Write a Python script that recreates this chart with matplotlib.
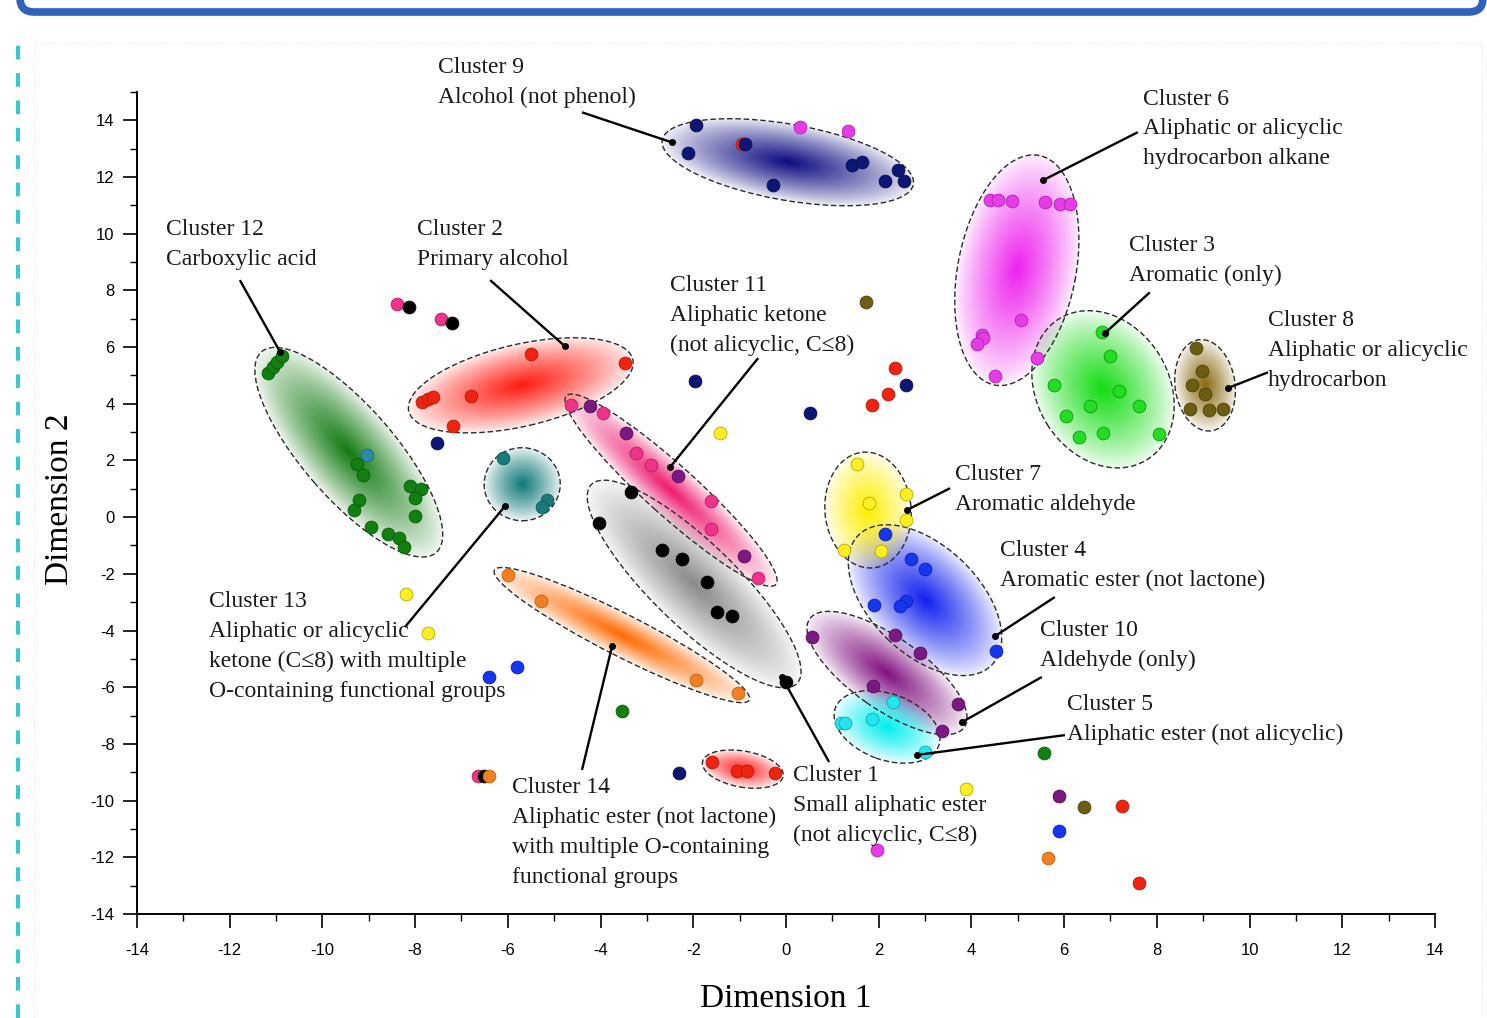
import numpy as np
import matplotlib
matplotlib.use("Agg")
import matplotlib.pyplot as plt
import matplotlib.transforms as mtransforms
from matplotlib.patches import Ellipse, FancyBboxPatch, Rectangle
from matplotlib.lines import Line2D
from matplotlib.ticker import MultipleLocator
from matplotlib.colors import to_rgb

plt.rcParams['axes.unicode_minus'] = False

# ---- points, grouped by marker colour (Dimension 1, Dimension 2) ----
red_x = [-5.51, -3.47, -7.86, -7.72, -7.61, -6.80, -7.19, -1.59, -1.05, -0.83, -0.24,
         2.35, 2.20, 1.86, 7.25, 7.61, -0.95]
red_y = [5.75, 5.45, 4.07, 4.15, 4.24, 4.27, 3.21, -8.63, -8.96, -8.96, -9.02,
         5.25, 4.34, 3.95, -10.19, -12.91, 13.15]
pink_x = [-4.64, -3.95, -3.24, -2.92, -1.62, -1.62, -0.60, -8.39, -7.44, -6.64]
pink_y = [3.95, 3.68, 2.25, 1.83, 0.56, -0.43, -2.16, 7.51, 6.98, -9.13]
black_x = [-3.35, -4.03, -2.68, -2.25, -1.70, -1.48, -1.17, 0.00, -8.13, -7.20, -6.52]
black_y = [0.89, -0.19, -1.16, -1.46, -2.28, -3.34, -3.48, -5.81, 7.40, 6.84, -9.13]
orange_x = [-6.00, -5.28, -1.93, -1.04, -6.41, 5.65]
orange_y = [-2.05, -2.95, -5.75, -6.22, -9.13, -12.02]
navy_x = [-1.93, -2.11, -0.88, -0.29, 1.43, 1.63, 2.14, 2.42, 2.55, -7.53, -1.96, 0.52, 2.59, -2.31]
navy_y = [13.82, 12.85, 13.15, 11.73, 12.41, 12.52, 11.84, 12.24, 11.86, 2.60, 4.80, 3.67, 4.65, -9.03]
magenta_x = [4.40, 4.58, 4.87, 5.59, 5.91, 6.13, 5.08, 4.22, 4.25, 4.13, 4.51, 5.42, 0.30, 1.33, 1.96]
magenta_y = [11.18, 11.18, 11.15, 11.12, 11.06, 11.04, 6.95, 6.42, 6.31, 6.12, 4.97, 5.63, 13.76, 13.61, -11.74]
lime_x = [6.82, 7.00, 5.78, 6.56, 7.19, 7.61, 6.04, 6.33, 6.84, 8.05]
lime_y = [6.53, 5.68, 4.65, 3.92, 4.45, 3.92, 3.56, 2.81, 2.95, 2.92]
olive_x = [8.84, 8.98, 8.76, 9.05, 8.71, 9.12, 9.43, 1.73, 6.43]
olive_y = [5.95, 5.16, 4.65, 4.34, 3.81, 3.77, 3.81, 7.58, -10.23]
green_x = [-11.17, -11.07, -10.97, -10.88, -9.26, -9.12, -8.11, -7.87, -8.00, -9.20, -9.32,
           -8.00, -8.96, -8.59, -8.34, -8.23, -3.54, 5.57]
green_y = [5.07, 5.28, 5.48, 5.68, 1.86, 1.48, 1.09, 0.98, 0.69, 0.62, 0.25,
           0.04, -0.36, -0.60, -0.72, -1.05, -6.84, -8.32]
steel_x = [-9.03]
steel_y = [2.19]
purple_x = [-4.23, -3.44, -2.32, -0.91, 0.57, 2.35, 2.89, 1.88, 3.72, 3.36, 5.89]
purple_y = [3.91, 2.95, 1.45, -1.36, -4.22, -4.16, -4.81, -5.96, -6.59, -7.54, -9.84]
teal_x = [-6.10, -5.16, -5.27]
teal_y = [2.07, 0.60, 0.36]
yellow_x = [1.53, 2.59, 1.80, 2.59, 1.26, 2.06, -1.42, -8.20, -7.72, 3.88]
yellow_y = [1.87, 0.81, 0.50, -0.11, -1.16, -1.20, 2.96, -2.72, -4.09, -9.59]
blue_x = [2.14, 2.69, 3.00, 1.90, 2.60, 2.46, 4.53, -5.80, -6.41, 5.89]
blue_y = [-0.61, -1.46, -1.84, -3.10, -2.95, -3.14, -4.71, -5.29, -5.64, -11.07]
cyan_x = [2.31, 1.19, 1.27, 1.85, 3.01]
cyan_y = [-6.51, -7.25, -7.27, -7.13, -8.28]

# ---- cluster ellipses: centre (data), semi-axes (pt), angle (deg), colour ----
ell_x = [-1.98, -2.48, -9.43, -5.72, -5.69, -3.54, -0.93, 0.04, 4.98, 6.84, 9.04, 3.00, 1.77, 2.18, 2.18]
ell_y = [-2.36, 0.95, 2.29, 4.65, 1.16, -4.16, -8.89, 12.52, 8.71, 4.51, 4.65, -2.93, 0.25, -5.50, -7.40]
ell_a = [103.0, 101.5, 95.8, 82.8, 27.4, 103.0, 29.5, 91.8, 84.2, 59.8, 33.1, 67.0, 41.8, 68.0, 39.6]
ell_b = [30.2, 18.0, 33.1, 29.5, 26.3, 15.1, 13.0, 27.4, 42.5, 47.5, 21.6, 38.9, 31.0, 25.9, 23.8]
ell_ang = [-44, -42, -49, 13, 0, -27, -10, -10, 79, -58, 98, -44, 95, -35, -20]
ell_col = ['#8a8a8a', '#ee1a6e', '#117a11', '#ff1a10', '#0e7878', '#ff6a00', '#ff2020', '#0a0a80',
           '#ee22ee', '#11dd11', '#8a6a10', '#1020ee', '#ffee00', '#801080', '#00eeee']

# ---- annotations ----
ann_text = [
    "Cluster 9\nAlcohol (not phenol)",
    "Cluster 6\nAliphatic or alicyclic\nhydrocarbon alkane",
    "Cluster 12\nCarboxylic acid",
    "Cluster 2\nPrimary alcohol",
    "Cluster 11\nAliphatic ketone\n(not alicyclic, C\u22648)",
    "Cluster 3\nAromatic (only)",
    "Cluster 8\nAliphatic or alicyclic\nhydrocarbon",
    "Cluster 7\nAromatic aldehyde",
    "Cluster 4\nAromatic ester (not lactone)",
    "Cluster 10\nAldehyde (only)",
    "Cluster 5\nAliphatic ester (not alicyclic)",
    "Cluster 13\nAliphatic or alicyclic\nketone (C\u22648) with multiple\nO-containing functional groups",
    "Cluster 14\nAliphatic ester (not lactone)\nwith multiple O-containing\nfunctional groups",
    "Cluster 1\nSmall aliphatic ester\n(not alicyclic, C\u22648)",
]
ann_tx = [-7.51, 7.70, -13.37, -7.96, -2.50, 7.40, 10.40, 3.65, 4.62, 5.48, 6.06, -12.45, -5.91, 0.15]
ann_ty = [16.22, 15.12, 10.50, 10.50, 8.53, 9.94, 7.29, 1.86, -0.82, -3.64, -6.25, -2.61, -9.17, -8.75]
ann_x0 = [-4.40, 7.59, -11.78, -6.38, -0.60, 7.85, 10.40, 3.54, 5.80, 5.52, 6.02, -8.22, -4.40, 0.93]
ann_y0 = [14.28, 13.58, 8.36, 8.36, 5.61, 7.93, 5.11, 1.02, -2.82, -5.64, -7.69, -3.88, -8.92, -8.64]
ann_x1 = [-2.46, 5.54, -10.91, -4.77, -2.50, 6.88, 9.53, 2.61, 4.51, 3.80, 2.83, -6.06, -3.75, -0.09]
ann_y1 = [13.22, 11.88, 5.82, 6.03, 1.76, 6.49, 4.55, 0.25, -4.20, -7.23, -8.39, 0.39, -4.55, -5.64]

fig = plt.figure(figsize=(14.87, 10.18), dpi=100)
ax = fig.add_axes([0.0921, 0.1022, 0.8729, 0.8075])


def shade(cx, cy, a, b, ang, col):
    # radial colour gradient clipped to a dashed ellipse
    tr = (mtransforms.Affine2D().rotate_deg(ang).scale(1 / 72.)
          + fig.dpi_scale_trans
          + mtransforms.ScaledTranslation(cx, cy, ax.transData))
    n = 220
    u = np.linspace(-1, 1, n)
    xx, yy = np.meshgrid(u, u)
    r = np.clip(np.hypot(xx, yy), 0, 1)
    rgba = np.ones((n, n, 4))
    rgba[..., :3] = to_rgb(col)
    rgba[..., 3] = 0.06 + 0.94 * (1 - r) ** 0.85
    im = ax.imshow(rgba, extent=(-a, a, -b, b), transform=tr, interpolation='bilinear',
                   aspect='auto', zorder=1)
    ell = Ellipse((0, 0), 2 * a, 2 * b, transform=tr, fill=False, ls=(0, (4, 2)),
                  lw=1.0, ec='#2a2a2a', zorder=2)
    ax.add_patch(ell)
    im.set_clip_path(ell)


for i in range(len(ell_x)):
    shade(ell_x[i], ell_y[i], ell_a[i], ell_b[i], ell_ang[i], ell_col[i])

groups = [
    (red_x, red_y, '#ee2410', '#b01a0a'),
    (pink_x, pink_y, '#ee3388', '#b02060'),
    (black_x, black_y, '#000000', '#000000'),
    (orange_x, orange_y, '#f28022', '#c06010'),
    (navy_x, navy_y, '#0d1675', '#080e50'),
    (magenta_x, magenta_y, '#e63ce6', '#b020b0'),
    (lime_x, lime_y, '#22dd22', '#119911'),
    (olive_x, olive_y, '#6b5e12', '#4a400a'),
    (green_x, green_y, '#118011', '#0a5a0a'),
    (steel_x, steel_y, '#2a8aa8', '#1a6a80'),
    (purple_x, purple_y, '#7a1a80', '#5a0a60'),
    (teal_x, teal_y, '#1a7a7a', '#0e5a5a'),
    (yellow_x, yellow_y, '#ffee22', '#b8a800'),
    (blue_x, blue_y, '#1535ee', '#0a20b0'),
    (cyan_x, cyan_y, '#22e5ee', '#10a8b0'),
]
for gx, gy, fc, ec in groups:
    ax.scatter(gx, gy, s=85, c=fc, edgecolors=ec, linewidths=0.6, zorder=3)

for i in range(len(ann_text)):
    ax.plot([ann_x0[i], ann_x1[i]], [ann_y0[i], ann_y1[i]], color='black', lw=1.7,
            zorder=5, clip_on=False, solid_capstyle='butt')
    ax.plot(ann_x1[i], ann_y1[i], 'o', ms=4, color='black', zorder=5)
    ax.text(ann_tx[i], ann_ty[i], ann_text[i], ha='left', va='top', fontsize=17,
            family='Liberation Serif', color='#1a1a1a', linespacing=1.55, zorder=6)

ax.set_xlim(-14, 14)
ax.set_ylim(-14, 15)
ax.set_yticks(np.arange(-14, 15, 2))
ax.xaxis.set_major_locator(MultipleLocator(2))
ax.xaxis.set_minor_locator(MultipleLocator(1))
ax.yaxis.set_minor_locator(MultipleLocator(1))
for s in ['top', 'right']:
    ax.spines[s].set_visible(False)
for s in ['left', 'bottom']:
    ax.spines[s].set_linewidth(1.4)
ax.tick_params(which='major', direction='out', length=10, width=1.2, pad=6, labelsize=12)
ax.tick_params(axis='x', which='major', pad=11)
ax.tick_params(which='minor', direction='out', length=5, width=1.0)
for lab in ax.get_xticklabels() + ax.get_yticklabels():
    lab.set_family('Liberation Sans')

ax.set_xlabel('Dimension 1', family='Liberation Serif', fontsize=24)
ax.set_ylabel('Dimension 2', family='Liberation Serif', fontsize=24)
ax.xaxis.set_label_coords(0.5, -0.085)
ax.yaxis.set_label_coords(-0.048, 0.504)

# page decorations around the figure
frame = FancyBboxPatch((0.20, 10.06), 14.63, 0.6, boxstyle='round,pad=0,rounding_size=0.14',
                       transform=fig.dpi_scale_trans, fc='white', ec='#2f62b8', lw=5.5,
                       clip_on=False)
fig.add_artist(frame)
fig.add_artist(Line2D([0.18, 0.18], [0.0, 9.85], transform=fig.dpi_scale_trans,
                      color='#3ec6c9', lw=2.9, dashes=(3.4, 3.4)))
fig.add_artist(Rectangle((0.34, -0.1), 14.48, 9.85, transform=fig.dpi_scale_trans,
                         fill=False, ec='#e4e4e4', lw=0.8, ls=':'))

fig.savefig('out.png', dpi=100)
